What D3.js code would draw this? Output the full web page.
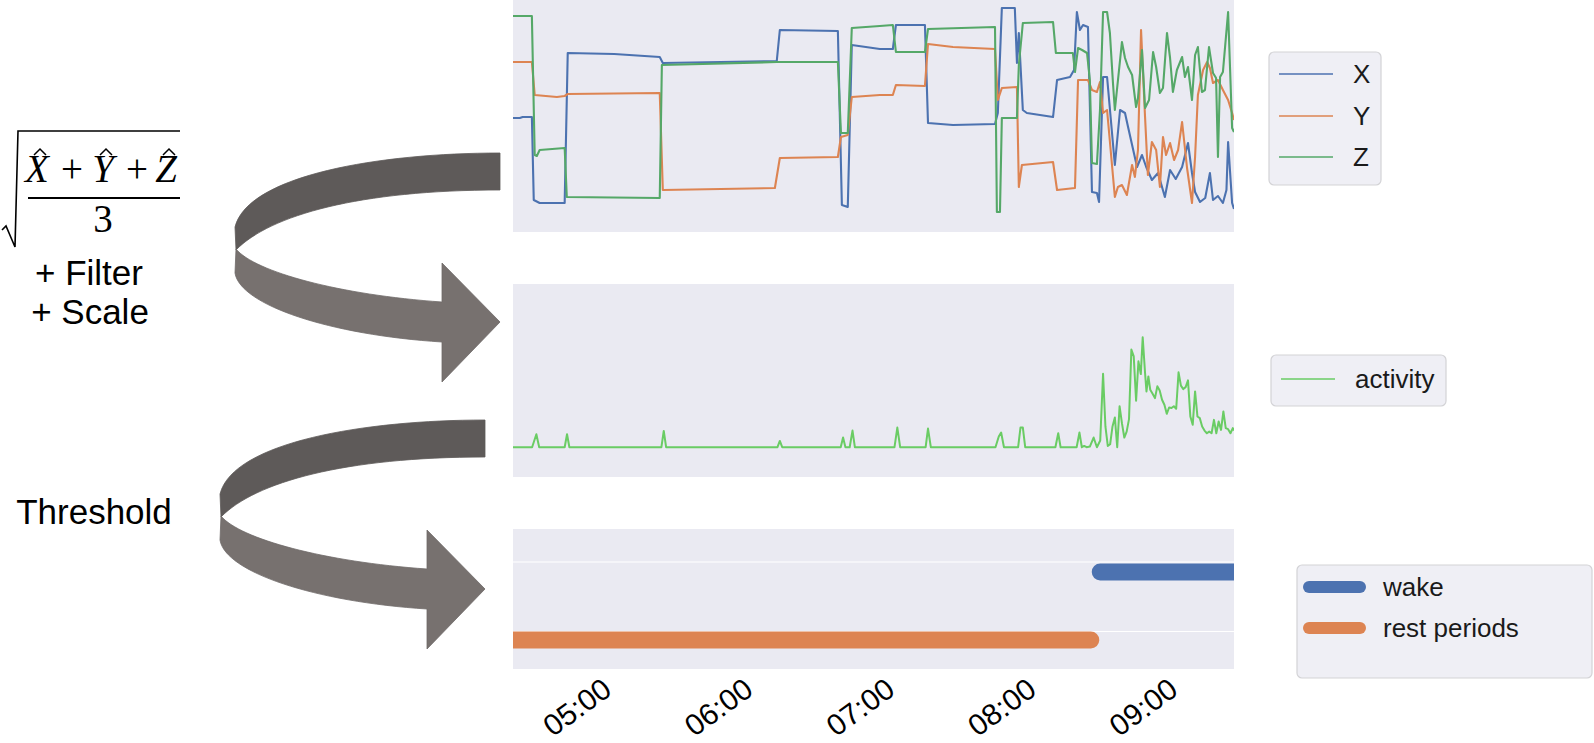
<!DOCTYPE html>
<html>
<head>
<meta charset="utf-8">
<script src="https://cdn.jsdelivr.net/npm/d3@7"></script>
<style>
  body { margin: 0; background: #fff; }
  svg { display: block; font-family: "Liberation Sans", Arial, sans-serif; }
</style>
</head>
<body>
<svg id="chart" width="1594" height="743"></svg>
<script>
// all times are minutes after 04:00, acceleration in g
const accX = [[33.1,-0.02],[36.0,-0.02],[37.2,-0.01],[41.1,-0.01],[41.9,-0.84],[44.4,-0.87],[55.0,-0.87],[56.3,0.63],[76,0.62],[95.3,0.59],[96.6,0.53],[144.9,0.55],[146.2,0.86],[170.8,0.85],[172.5,-0.89],[175.0,-0.91],[176.7,0.71],[188.6,0.67],[194.1,0.67],[195.4,0.91],[207.7,0.91],[209.0,-0.07],[219.6,-0.09],[237.4,-0.08],[238.6,0.03],[240.3,1.08],[245.8,1.08],[246.7,0.53],[247.5,0.83],[249.2,0.06],[250.9,0.03],[262.0,-0.01],[263.7,0.36],[269.2,0.39],[270.9,0.46],[272.1,1.04],[273.4,0.86],[274.7,0.91],[276.8,0.89],[278.5,-0.76],[280.6,-0.77],[281.5,-0.86],[283.2,0.39],[284.9,0.39],[288.2,-0.49],[290.4,0.06],[292.5,0.03],[293.8,-0.11],[297.6,-0.51],[299.7,-0.39],[301.5,-0.51],[303.9,-0.64],[306.5,-0.57],[309.4,-0.81],[311.6,-0.54],[314,-0.63],[316.7,-0.51],[319.2,-0.27],[320.9,-0.57],[322.2,-0.76],[324.3,-0.86],[326.5,-0.82],[328.5,-0.57],[329.8,-0.84],[331.9,-0.80],[334.0,-0.87],[335.5,-0.74],[336.2,-0.26],[337.9,-0.87],[338.7,-0.93]];

const accY = [[33.1,0.54],[41.1,0.54],[42.3,0.21],[51.7,0.19],[55.0,0.20],[56.3,0.22],[95.3,0.23],[96.6,-0.74],[144.1,-0.72],[146.2,-0.42],[170.8,-0.41],[172.1,-0.21],[175.0,-0.19],[176.7,0.19],[188.6,0.21],[194.1,0.21],[195.4,0.31],[207.7,0.30],[209.0,0.72],[219.6,0.69],[237.4,0.67],[238.6,0.16],[240.3,0.28],[246.7,0.29],[247.5,-0.71],[248.8,-0.49],[262.0,-0.46],[263.7,-0.74],[271.3,-0.72],[272.6,0.36],[276.8,0.36],[278.5,0.26],[280.6,0.24],[281.9,0.34],[283.2,0.03],[284.9,0.06],[288.2,-0.81],[289.5,-0.71],[291.2,-0.69],[293.3,-0.79],[295.5,-0.49],[296.7,-0.61],[298.0,-0.34],[299.3,0.86],[301.0,-0.01],[302.2,-0.59],[303.9,-0.26],[305.7,-0.34],[307.3,-0.71],[308.6,-0.21],[309.9,-0.39],[311.6,-0.27],[313.3,-0.44],[315.0,-0.34],[316.7,-0.06],[318.8,-0.52],[320.9,-0.87],[322.2,-0.41],[323.4,0.21],[325.6,0.46],[327.3,0.54],[328.5,0.48],[329.8,0.33],[331.9,0.36],[334.0,0.26],[336.2,0.16],[337.9,0.03],[338.7,-0.04]];

const accZ = [[33.1,1.00],[41.1,1.00],[42.3,-0.39],[43.2,-0.40],[44.4,-0.34],[55.0,-0.32],[55.9,-0.81],[95.3,-0.82],[96.2,0.51],[144.9,0.54],[170.8,0.54],[172.1,-0.17],[175.0,-0.17],[176.7,0.88],[188.6,0.90],[194.1,0.91],[195.4,0.64],[207.7,0.64],[209.0,0.87],[237.4,0.89],[238.2,-0.96],[239.5,-0.96],[240.3,-0.02],[246.7,-0.02],[247.5,0.51],[248.8,0.83],[249.2,0.93],[262.0,0.94],[263.2,0.63],[270.4,0.63],[271.3,0.44],[272.6,0.68],[274.3,0.66],[276.4,0.63],[277.6,0.36],[278.5,-0.47],[280.6,-0.48],[281.9,0.06],[283.2,1.04],[284.9,1.04],[286.1,0.83],[287.4,0.33],[288.2,0.06],[291.2,0.74],[292.5,0.58],[293.8,0.49],[295.5,0.41],[297.2,0.09],[298.0,0.18],[299.7,0.66],[301.0,0.08],[302.7,0.16],[304.4,0.64],[305.7,0.49],[307.3,0.23],[308.6,0.28],[310.3,0.83],[311.6,0.58],[312.8,0.24],[314.5,0.46],[316.7,0.59],[317.9,0.39],[319.2,0.49],[320.9,0.16],[322.2,0.61],[323.4,0.69],[325.1,0.24],[326.4,0.26],[328.1,0.69],[329.8,0.43],[331.1,0.38],[331.9,-0.41],[332.8,0.39],[334.0,0.44],[336.2,1.04],[337.9,-0.12],[338.7,-0.16]];

// activity after sqrt / filter / scale
const activity = [[33.1,0],[41.2,0],[43.0,0.118],[44.2,0],[55.0,0],[56.0,0.118],[57.0,0],[96.0,0],[97.0,0.148],[98.0,0],[145.2,0],[146.2,0.057],[147.2,0],[172.0,0],[173.0,0.088],[174.0,0],[175.8,0],[177.0,0.151],[178.0,0],[194.8,0],[196.0,0.178],[197.2,0],[208.0,0],[209.0,0.169],[210.2,0],[237.6,0],[239.0,0.097],[240.0,0.133],[241.2,0],[247.2,0],[248.2,0.178],[249.2,0.178],[250.2,0],[263.0,0],[264.2,0.127],[265.2,0],[272.0,0],[273.2,0.133],[274.2,0],[275.2,0.012],[276.2,0],[277.6,0.006],[279.2,0.088],[280.6,0],[282.0,0.061],[283.2,0.666],[284.2,0.188],[285.2,0.012],[286.2,0.027],[287.2,0.188],[288.2,0.27],[289.2,0],[290.2,0.372],[291.2,0.218],[292.2,0.088],[293.2,0.142],[294.2,0.255],[295.2,0.885],[296.2,0.824],[297.2,0.421],[298.2,0.779],[299.2,0.663],[300.0,0.997],[301.0,0.673],[301.6,0.506],[302.4,0.642],[303.2,0.521],[304.2,0.485],[305.2,0.445],[306.2,0.552],[307.2,0.515],[308.2,0.43],[309.2,0.385],[310.2,0.303],[311.2,0.36],[312.2,0.355],[313.2,0.372],[314.2,0.349],[315.2,0.679],[316.2,0.558],[317.2,0.527],[318.2,0.545],[319.2,0.606],[320.2,0.279],[321.2,0.203],[322.2,0.506],[323.2,0.279],[324.2,0.264],[325.2,0.188],[326.2,0.151],[327.2,0.127],[328.2,0.142],[329.2,0.127],[330.2,0.248],[331.2,0.127],[332.2,0.233],[333.2,0.157],[334.2,0.324],[335.2,0.173],[336.2,0.164],[337.2,0.127],[338.2,0.173],[338.7,0.151]];

// thresholded periods [start, end]
const wakePeriods = [[282, 350]];
const restPeriods = [[20, 278]];

const timeDomain = [33.1, 338.7];

// layout
const plotLeft = 513, plotRight = 1234;
const accPanel = { top: 0, bottom: 232 };
const actPanel = { top: 284, bottom: 477 };
const statePanel = { top: 529, bottom: 669 };
const panelBg = "#eaeaf2";
const colX = "#4c72b0", colY = "#dd8452", colZ = "#55a868", colAct = "#6acc64";
const textCol = "#1a1a1a";

const base = new Date(2021, 0, 1, 4, 0);
const toDate = m => new Date(base.getTime() + m * 60000);

const svg = d3.select("#chart");
const defs = svg.append("defs");

const x = d3.scaleTime().domain(timeDomain.map(toDate)).range([plotLeft, plotRight]);
const yAcc = d3.scaleLinear().domain([-1.16, 1.16]).range([accPanel.bottom, accPanel.top]);
const yAct = d3.scaleLinear().domain([-0.27, 1.48]).range([actPanel.bottom, actPanel.top]);
const yState = d3.scalePoint().domain(["wake", "rest periods"]).range([572, 640]);

// panel background + clip
function addPanel(p, id) {
  svg.append("rect")
    .attr("x", plotLeft).attr("y", p.top)
    .attr("width", plotRight - plotLeft).attr("height", p.bottom - p.top)
    .attr("fill", panelBg);
  defs.append("clipPath").attr("id", id).append("rect")
    .attr("x", plotLeft).attr("y", p.top)
    .attr("width", plotRight - plotLeft).attr("height", p.bottom - p.top);
  return svg.append("g").attr("clip-path", `url(#${id})`);
}

const gAcc = addPanel(accPanel, "clipAcc");
const gAct = addPanel(actPanel, "clipAct");
const gState = addPanel(statePanel, "clipState");

// raw accelerometer lines
const lineAcc = d3.line().x(d => x(toDate(d[0]))).y(d => yAcc(d[1]));
[[accX, colX], [accY, colY], [accZ, colZ]].forEach(([data, c]) => {
  gAcc.append("path")
    .datum(data)
    .attr("fill", "none")
    .attr("stroke", c)
    .attr("stroke-width", 2.1)
    .attr("stroke-linejoin", "round")
    .attr("d", lineAcc);
});

// activity line
const lineAct = d3.line().x(d => x(toDate(d[0]))).y(d => yAct(d[1]));
gAct.append("path")
  .datum(activity)
  .attr("fill", "none")
  .attr("stroke", colAct)
  .attr("stroke-width", 2)
  .attr("stroke-linejoin", "round")
  .attr("d", lineAct);

// wake / rest bars with faint grid
yState.domain().forEach((k, i) => {
  gState.append("line")
    .attr("x1", plotLeft).attr("x2", plotRight)
    .attr("y1", yState(k) - (i ? 8.5 : 10)).attr("y2", yState(k) - (i ? 8.5 : 10))
    .attr("stroke", "#fff").attr("stroke-width", 1.2);
});
[["wake", wakePeriods, colX], ["rest periods", restPeriods, colY]].forEach(([k, periods, c]) => {
  gState.selectAll(null)
    .data(periods)
    .join("line")
    .attr("x1", d => x(toDate(d[0])))
    .attr("x2", d => x(toDate(d[1])))
    .attr("y1", yState(k)).attr("y2", yState(k))
    .attr("stroke", c)
    .attr("stroke-width", 17)
    .attr("stroke-linecap", "round");
});

// time axis
const axis = svg.append("g")
  .attr("transform", `translate(0,${statePanel.bottom})`)
  .call(d3.axisBottom(x).ticks(d3.timeHour.every(1)).tickFormat(d3.timeFormat("%H:%M")).tickSize(0));
axis.select(".domain").remove();
axis.selectAll("text")
  .attr("y", 0).attr("dy", null)
  .attr("transform", "translate(0,38) rotate(-36)")
  .attr("text-anchor", "middle")
  .attr("dominant-baseline", "central")
  .attr("fill", "#000")
  .style("font-size", "30px")
  .style("font-family", "'Liberation Sans', Arial, sans-serif");

// legends
function addLegend(box, items, lx1, lx2, tx) {
  svg.append("rect")
    .attr("x", box.x).attr("y", box.y)
    .attr("width", box.w).attr("height", box.h)
    .attr("rx", 5)
    .attr("fill", "#efeff5")
    .attr("stroke", "#d3d3d6")
    .attr("stroke-width", 1.2);
  items.forEach(it => {
    svg.append("line")
      .attr("x1", lx1).attr("x2", lx2)
      .attr("y1", it.y).attr("y2", it.y)
      .attr("stroke", it.color)
      .attr("stroke-width", it.width)
      .attr("stroke-linecap", it.width > 4 ? "round" : "butt");
    svg.append("text")
      .attr("x", tx).attr("y", it.y)
      .attr("dominant-baseline", "central")
      .attr("fill", textCol)
      .style("font-size", "26px")
      .text(it.label);
  });
}

addLegend({ x: 1269, y: 52, w: 112, h: 133 }, [
  { label: "X", color: colX, width: 1.6, y: 74 },
  { label: "Y", color: colY, width: 1.6, y: 116 },
  { label: "Z", color: colZ, width: 1.6, y: 157 }
], 1279, 1333, 1353);

addLegend({ x: 1271, y: 355, w: 175, h: 51 }, [
  { label: "activity", color: colAct, width: 1.6, y: 379 }
], 1281, 1335, 1355);

addLegend({ x: 1297, y: 565, w: 295, h: 113 }, [
  { label: "wake", color: colX, width: 12, y: 587 },
  { label: "rest periods", color: colY, width: 12, y: 628 }
], 1309, 1360, 1383);

// curved arrows on the left
function addArrow(dx, dy) {
  const g = svg.append("g").attr("transform", `translate(${dx},${dy})`);
  g.append("path")
    .attr("d", "M500,153 C380,153 248,175 235,227 L236,250 C270,215 360,190 500,190 Z")
    .attr("fill", "#5e5a59").attr("stroke", "#5e5a59").attr("stroke-width", 0.8);
  g.append("path")
    .attr("d", "M236,249 L235,273 C240,305 330,335 442,342 L442,382 L500,322 L442,263 L442,302 C340,295 255,272 236,249 Z")
    .attr("fill", "#77716f").attr("stroke", "#6f6a68").attr("stroke-width", 0.8);
}
addArrow(0, 0);
addArrow(-15, 267);

// formula sqrt((X^ + Y^ + Z^)/3)
const f = svg.append("g").attr("fill", "#000");
f.append("path")
  .attr("d", "M2,230 L6,226 L15,247 L18,131 L180,131")
  .attr("fill", "none").attr("stroke", "#000").attr("stroke-width", 1.6);
f.append("line").attr("x1", 28).attr("x2", 180).attr("y1", 198).attr("y2", 198)
  .attr("stroke", "#000").attr("stroke-width", 2);
[["X", 37, true], ["+", 72, false], ["Y", 103, true], ["+", 137, false], ["Z", 166, true]].forEach(([s, cx, it]) => {
  f.append("text")
    .attr("x", cx).attr("y", 182)
    .attr("text-anchor", "middle")
    .style("font-family", "'Liberation Serif', 'DejaVu Serif', serif")
    .style("font-style", it ? "italic" : "normal")
    .style("font-size", "39px")
    .text(s);
  if (it) {
    f.append("path")
      .attr("d", `M${cx - 3},155 L${cx + 3},149 L${cx + 9},155`)
      .attr("fill", "none").attr("stroke", "#000").attr("stroke-width", 1.5);
  }
});
f.append("text")
  .attr("x", 103).attr("y", 232)
  .attr("text-anchor", "middle")
  .style("font-family", "'Liberation Serif', 'DejaVu Serif', serif")
  .style("font-size", "39px")
  .text("3");

// step labels
[["+ Filter", 89, 285], ["+ Scale", 90, 324], ["Threshold", 94, 524]].forEach(([t, cx, by]) => {
  svg.append("text")
    .attr("x", cx).attr("y", by)
    .attr("text-anchor", "middle")
    .attr("fill", "#000")
    .style("font-size", "35px")
    .text(t);
});
</script>
</body>
</html>
